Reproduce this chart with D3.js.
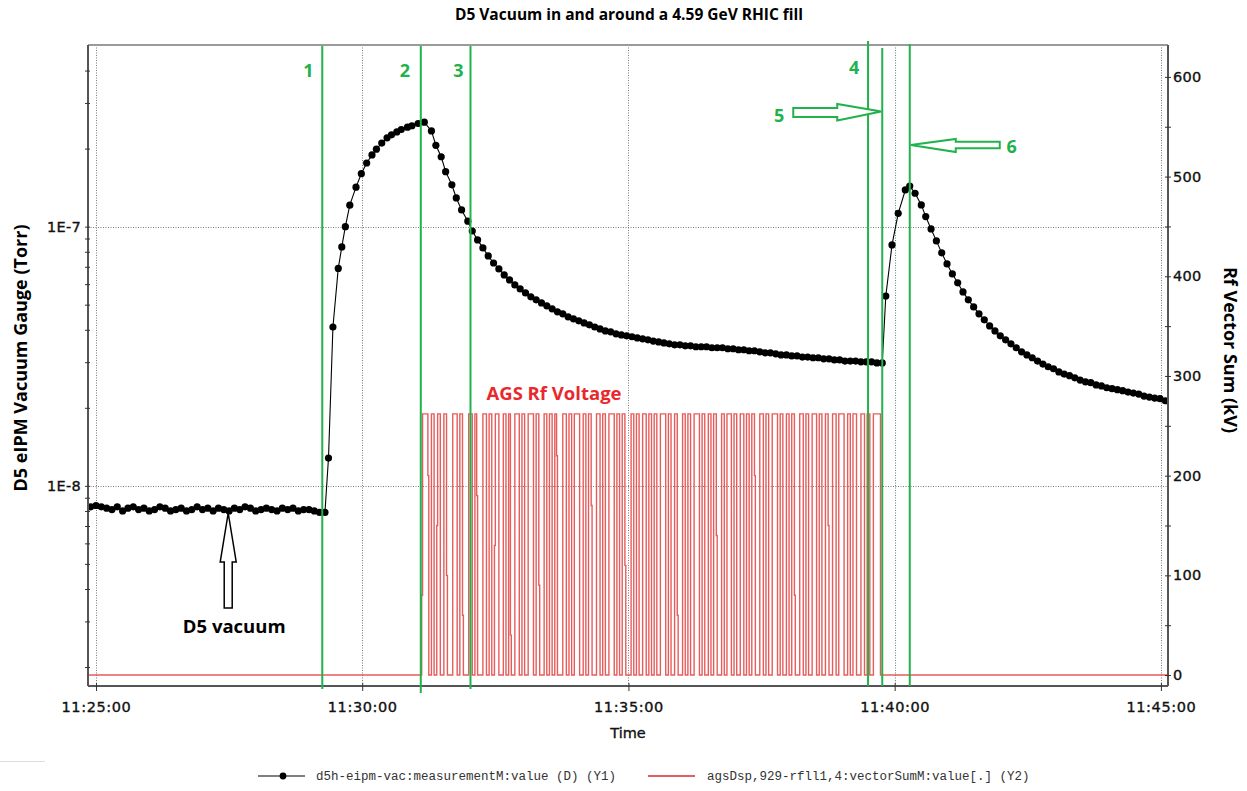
<!DOCTYPE html>
<html><head><meta charset="utf-8">
<script src="https://cdn.jsdelivr.net/npm/d3@7"></script>
<style>body{margin:0;background:#fff}</style>
</head><body>
<svg id="c" width="1247" height="791"></svg>
<script>
// ---------------- DATA ----------------
const chartTitle = "D5 Vacuum in and around a 4.59 GeV RHIC fill";
const leftAxisTitle = "D5 eIPM Vacuum Gauge (Torr)";
const rightAxisTitle = "Rf Vector Sum (kV)";
const xAxisTitle = "Time";
const xTickSeconds = [0, 300, 600, 900, 1200];           // seconds after 11:25:00
const yLeftMajor = [1e-8, 1e-7];
const yLeftLabels = ["1E-8", "1E-7"];
const yRightMajor = [0, 100, 200, 300, 400, 500, 600];
const legendLabels = ["d5h-eipm-vac:measurementM:value (D) (Y1)", "agsDsp,929-rfll1,4:vectorSumM:value[.] (Y2)"];

// D5 vacuum (Torr), times in seconds after 11:25:00
const vacSeconds = [
 -6,0,6,12,18,24,30,36,42,48,54,60,66,72,78,84,90,96,102,108,114,120,126,132,138,144,150,156,162,168,174,180,186,192,198,204,210,216,222,228,234,240,246,252,258,
 262,267,273,277,281,286,293,299,305,311,316,322,328,333,339,344,351,356,363,370,378,383,389,394,401,406,412,419,
 424,430,436,442,448,454,460,466,472,478,484,490,496,502,508,514,520,526,532,538,544,550,556,562,568,574,580,586,592,598,
 604,610,616,622,628,634,640,646,652,658,664,670,676,682,688,694,700,706,712,718,724,730,736,742,748,754,760,766,772,778,
 784,790,796,802,808,814,820,826,832,838,844,850,856,862,868,874,880,886,
 890,897,904,912,917,923,930,935,
 941,947,953,959,965,971,977,983,989,995,1001,1007,1013,1019,1025,1031,1037,1043,1049,1055,1061,1067,1073,1079,1085,1091,
 1097,1103,1109,1115,1121,1127,1133,1139,1145,1151,1157,1163,1169,1175,1181,1187,1193,1199,1205
];
const vacTorr = [
 8.3e-9,8.4e-9,8.3e-9,8.2e-9,8.1e-9,8.3e-9,8.0e-9,8.2e-9,8.3e-9,8.1e-9,8.2e-9,8.0e-9,8.1e-9,8.3e-9,8.2e-9,8.0e-9,8.1e-9,8.2e-9,8.0e-9,8.1e-9,
 8.3e-9,8.1e-9,8.2e-9,8.0e-9,8.2e-9,8.1e-9,8.0e-9,8.2e-9,8.1e-9,8.3e-9,8.2e-9,8.0e-9,8.1e-9,8.2e-9,8.1e-9,8.0e-9,8.2e-9,8.1e-9,8.2e-9,8.0e-9,
 8.1e-9,8.1e-9,8.0e-9,7.9e-9,7.9e-9,
 1.28e-8,4.1e-8,6.9e-8,8.35e-8,1.0e-7,1.21e-7,1.42e-7,1.60e-7,1.76e-7,1.89e-7,1.99e-7,2.10e-7,2.20e-7,2.26e-7,2.32e-7,2.37e-7,2.42e-7,2.45e-7,2.50e-7,2.53e-7,
 2.34e-7,2.06e-7,1.86e-7,1.63e-7,1.45e-7,1.29e-7,1.16e-7,1.05e-7,
 9.62e-8,8.89e-8,8.28e-8,7.71e-8,7.24e-8,6.87e-8,6.51e-8,6.23e-8,5.96e-8,5.75e-8,5.55e-8,5.36e-8,5.22e-8,5.08e-8,4.95e-8,4.82e-8,4.69e-8,4.61e-8,4.49e-8,4.41e-8,
 4.33e-8,4.25e-8,4.18e-8,4.10e-8,4.03e-8,3.96e-8,3.93e-8,3.86e-8,3.82e-8,3.79e-8,3.76e-8,3.72e-8,3.69e-8,3.66e-8,3.62e-8,3.59e-8,3.56e-8,3.53e-8,3.50e-8,3.50e-8,
 3.47e-8,3.47e-8,3.44e-8,3.44e-8,3.44e-8,3.41e-8,3.41e-8,3.41e-8,3.38e-8,3.38e-8,3.35e-8,3.35e-8,3.32e-8,3.32e-8,3.29e-8,3.26e-8,3.26e-8,3.23e-8,3.20e-8,3.20e-8,
 3.17e-8,3.17e-8,3.14e-8,3.14e-8,3.12e-8,3.12e-8,3.09e-8,3.09e-8,3.06e-8,3.06e-8,3.03e-8,3.03e-8,3.03e-8,3.01e-8,3.01e-8,3.01e-8,2.98e-8,2.98e-8,
 5.40e-8,8.50e-8,1.126e-7,1.385e-7,1.435e-7,1.345e-7,1.213e-7,1.093e-7,
 9.80e-8,8.81e-8,7.92e-8,7.18e-8,6.57e-8,6.07e-8,5.60e-8,5.22e-8,4.90e-8,4.61e-8,4.37e-8,4.14e-8,3.96e-8,3.79e-8,3.66e-8,3.53e-8,3.41e-8,3.29e-8,3.20e-8,3.12e-8,
 3.03e-8,2.95e-8,2.88e-8,2.83e-8,2.75e-8,2.70e-8,2.66e-8,2.61e-8,2.56e-8,2.52e-8,2.50e-8,2.45e-8,2.43e-8,2.39e-8,2.37e-8,2.35e-8,2.33e-8,2.30e-8,2.28e-8,2.26e-8,
 2.22e-8,2.20e-8,2.18e-8,2.17e-8,2.13e-8
];

// AGS Rf vector sum (kV), step data, seconds after 11:25:00
const rfSeconds = [
 -9,367,368,374,375,378,381,384,385,388,392,395,396,402,407,410,413,414,420,424,427,429,430,436,440,443,446,449,450,454,
 459,462,465,467,468,472,477,480,483,487,493,496,499,500,505,508,511,514,517,519,520,526,530,533,536,539,545,549,552,555,
 558,559,564,568,571,574,578,584,587,590,593,596,597,603,606,609,612,616,620,623,626,629,632,636,642,645,648,652,655,656,
 661,664,667,670,674,680,683,686,690,693,696,699,700,705,708,711,716,719,722,726,730,733,736,739,742,743,748,752,755,758,
 762,768,771,774,778,781,784,787,788,793,797,800,803,807,812,815,818,822,825,826,830,834,837,843,847,850,853,857,862,866,
 869,872,876,884,1208
];
const rfKV = [
 0,80,262,200,0,262,0,150,262,0,262,100,0,262,0,262,60,0,262,0,262,180,0,262,0,262,0,130,262,0,
 262,0,262,40,0,262,0,262,0,262,0,262,90,0,262,0,262,0,262,220,0,262,0,262,0,262,0,262,0,262,
 170,0,262,0,262,0,262,0,262,0,262,110,0,262,0,262,0,262,0,262,0,262,0,262,0,262,0,262,60,0,
 262,0,262,0,262,0,262,0,262,0,262,140,0,262,0,262,0,262,0,262,0,262,0,262,200,0,262,0,262,0,
 262,0,262,0,262,0,262,80,0,262,0,262,0,262,0,262,0,262,150,0,262,0,262,0,262,0,262,0,262,0,
 262,0,262,0,0
];

// annotation markers (green lines)
const markerLabels = ["1", "2", "3", "4", "5", "6"];
const markerSeconds = [255, 366, 422, 870, 886, 917];

// ---------------- CHART ----------------
const svg = d3.select("#c");
const L = 88, R = 1168, T = 45, B = 686;
const base = new Date(2020, 0, 1, 11, 25, 0).getTime();
const toDate = s => new Date(base + s * 1000);

const x = d3.scaleTime().domain([toDate(-9), toDate(1208)]).range([L, R]);
const yL = d3.scaleLog().domain([1.69e-9, 5.02e-7]).range([B, T]);
const yR = d3.scaleLinear().domain([-11, 632]).range([B, T]);

const tickFont = "'DejaVu Sans', Verdana, sans-serif";
const annFont = "'Open Sans', 'Noto Sans', sans-serif";
const green = "#22b24c";

svg.append("defs").append("clipPath").attr("id", "plot")
  .append("rect").attr("x", L).attr("y", T).attr("width", R - L).attr("height", B - T);

// gridlines
const grid = svg.append("g").attr("stroke", "#7a7a7a").attr("stroke-width", 1).attr("stroke-dasharray", "1,1.5");
grid.selectAll("line.v").data(xTickSeconds).join("line")
  .attr("x1", d => Math.round(x(toDate(d))) + 0.5).attr("x2", d => Math.round(x(toDate(d))) + 0.5)
  .attr("y1", T).attr("y2", B);
grid.selectAll("line.h").data(yLeftMajor).join("line")
  .attr("y1", d => Math.round(yL(d)) + 0.5).attr("y2", d => Math.round(yL(d)) + 0.5)
  .attr("x1", L).attr("x2", R);

const plot = svg.append("g").attr("clip-path", "url(#plot)");

// Rf line (step)
const rfData = rfSeconds.map((s, i) => ({ t: toDate(s), v: rfKV[i] }));
plot.append("path").datum(rfData)
  .attr("fill", "none").attr("stroke", "#e34a4a").attr("stroke-width", 1.4).attr("stroke-opacity", 0.9)
  .attr("d", d3.line().curve(d3.curveStepAfter).x(d => x(d.t)).y(d => yR(d.v)));

// Vacuum line + dots
const vacData = vacSeconds.map((s, i) => ({ t: toDate(s), v: vacTorr[i] }));
plot.append("path").datum(vacData)
  .attr("fill", "none").attr("stroke", "#000").attr("stroke-width", 1.1)
  .attr("d", d3.line().x(d => x(d.t)).y(d => yL(d.v)));
plot.selectAll("circle.vac").data(vacData).join("circle")
  .attr("cx", d => x(d.t)).attr("cy", d => yL(d.v)).attr("r", 3.6).attr("fill", "#000");

// frame
svg.append("line").attr("x1", L).attr("x2", R).attr("y1", T).attr("y2", T).attr("stroke", "#9a9a9a").attr("stroke-width", 2);

const styleTickText = sel => sel.attr("font-family", tickFont).attr("font-size", 14.5)
  .attr("fill", "#111").attr("stroke", "#111").attr("stroke-width", 0.35);

// X axis
const xAxis = svg.append("g").attr("transform", `translate(0,${B})`)
  .call(d3.axisBottom(x).tickValues(xTickSeconds.map(toDate)).tickFormat(d3.timeFormat("%H:%M:%S")).tickSize(5).tickPadding(0));
xAxis.select(".domain").attr("stroke", "#555").attr("stroke-width", 2).attr("d", `M${L},0H${R}`);
xAxis.selectAll(".tick line").attr("y1", -3).attr("y2", 5).attr("stroke", "#333");
xAxis.selectAll(".tick text").attr("y", 16).attr("dy", "0.71em").call(styleTickText).attr("letter-spacing", 0.6);

// Left axis (log)
const leftTicks = [];
[1e-9, 1e-8, 1e-7].forEach(dec => { for (let m = 1; m <= 9; m++) { const v = dec * m; if (v >= 1.8e-9 && v <= 4.6e-7) leftTicks.push(v); } });
const yAxisL = svg.append("g").attr("transform", `translate(${L},0)`)
  .call(d3.axisLeft(yL).tickValues(leftTicks).tickFormat(d => { const i = yLeftMajor.findIndex(m => Math.abs(m - d) / m < 1e-6); return i >= 0 ? yLeftLabels[i] : ""; }).tickSize(4).tickPadding(0));
yAxisL.select(".domain").attr("stroke", "#555").attr("stroke-width", 2).attr("d", `M0,${T}V${B}`);
yAxisL.selectAll(".tick line").attr("x1", -3).attr("x2", 2).attr("stroke", "#333");
yAxisL.selectAll(".tick text").attr("x", -7).call(styleTickText).attr("letter-spacing", 0.3);

// Right axis
const rightTicks = d3.range(0, 601, 50);
const yAxisR = svg.append("g").attr("transform", `translate(${R},0)`)
  .call(d3.axisRight(yR).tickValues(rightTicks).tickFormat(d => yRightMajor.includes(d) ? String(d) : "").tickSize(4).tickPadding(0));
yAxisR.select(".domain").attr("stroke", "#555").attr("stroke-width", 2).attr("d", `M0,${T}V${B}`);
yAxisR.selectAll(".tick line").attr("x1", -3).attr("x2", 3).attr("stroke", "#333");
yAxisR.selectAll(".tick text").attr("x", 5).call(styleTickText).attr("letter-spacing", 0.3);

// Axis titles
svg.append("text").attr("x", 628).attr("y", 738).attr("text-anchor", "middle")
  .call(styleTickText).text(xAxisTitle);
svg.append("text").attr("transform", "translate(27,358) rotate(-90)").attr("text-anchor", "middle")
  .attr("font-family", annFont).attr("font-weight", 700).attr("font-size", 18).attr("fill", "#000").text(leftAxisTitle);
svg.append("text").attr("transform", "translate(1224,350) rotate(90)").attr("text-anchor", "middle")
  .attr("font-family", annFont).attr("font-weight", 700).attr("font-size", 18).attr("fill", "#000").text(rightAxisTitle);
svg.append("text").attr("x", 629).attr("y", 20).attr("text-anchor", "middle")
  .attr("font-family", annFont).attr("font-weight", 700).attr("font-size", 15.5).attr("fill", "#000").text(chartTitle);

// Green marker lines
const markerTop = [46, 46, 46, 41, 48, 44];
const markerBot = [689, 693, 689, 686, 686, 686];
svg.selectAll("line.mk").data(markerSeconds).join("line")
  .attr("x1", d => x(toDate(d))).attr("x2", d => x(toDate(d)))
  .attr("y1", (d, i) => markerTop[i]).attr("y2", (d, i) => markerBot[i])
  .attr("stroke", green).attr("stroke-width", 2);
const labelDx = [-14, -16, -12, -14, -103, 102];
const labelY = [77, 77, 77, 74, 122, 153];
svg.selectAll("text.mk").data(markerSeconds).join("text")
  .attr("x", (d, i) => x(toDate(d)) + labelDx[i]).attr("y", (d, i) => labelY[i]).attr("text-anchor", "middle")
  .attr("font-family", annFont).attr("font-weight", 700).attr("font-size", 18).attr("fill", green)
  .text((d, i) => markerLabels[i]);

// Arrows for 5 and 6
const x5 = x(toDate(markerSeconds[4])), x6 = x(toDate(markerSeconds[5]));
svg.append("path").attr("fill", "#fff").attr("stroke", green).attr("stroke-width", 2)
  .attr("d", `M${x5 - 89},108 H${x5 - 45} V104 L${x5 - 1},111.5 L${x5 - 45},120.5 V117 H${x5 - 89} Z`);
svg.append("path").attr("fill", "#fff").attr("stroke", green).attr("stroke-width", 2)
  .attr("d", `M${x6 + 1},145 L${x6 + 46},139 V141.7 H${x6 + 90} V148.3 H${x6 + 46} V152 Z`);

// D5 vacuum arrow
const xa = x(toDate(149));
svg.append("path").attr("fill", "#fff").attr("stroke", "#000").attr("stroke-width", 1.5)
  .attr("d", `M${xa},513 L${xa + 8},562 H${xa + 4} V608 H${xa - 4} V562 H${xa - 8} Z`);
svg.append("text").attr("x", xa + 6).attr("y", 633).attr("text-anchor", "middle")
  .attr("font-family", annFont).attr("font-weight", 700).attr("font-size", 18.5).attr("fill", "#000").text("D5 vacuum");

// AGS Rf Voltage label
svg.append("text").attr("x", 554).attr("y", 400).attr("text-anchor", "middle")
  .attr("font-family", annFont).attr("font-weight", 700).attr("font-size", 18.5).attr("fill", "#e8282c").text("AGS Rf Voltage");

// Legend
svg.append("line").attr("x1", 0).attr("x2", 45).attr("y1", 761.5).attr("y2", 761.5).attr("stroke", "#ddd");
const lg = svg.append("g").attr("font-family", "'Liberation Mono', 'DejaVu Sans Mono', monospace").attr("font-size", 12.5).attr("fill", "#333");
lg.append("line").attr("x1", 258).attr("x2", 305).attr("y1", 776).attr("y2", 776).attr("stroke", "#000").attr("stroke-width", 1.2);
lg.append("circle").attr("cx", 283).attr("cy", 776).attr("r", 3.4).attr("fill", "#000");
lg.append("text").attr("x", 316).attr("y", 780).text(legendLabels[0]);
lg.append("line").attr("x1", 648).attr("x2", 695).attr("y1", 776).attr("y2", 776).attr("stroke", "#e06060").attr("stroke-width", 2);
lg.append("text").attr("x", 707).attr("y", 780).text(legendLabels[1]);
</script>
</body></html>
